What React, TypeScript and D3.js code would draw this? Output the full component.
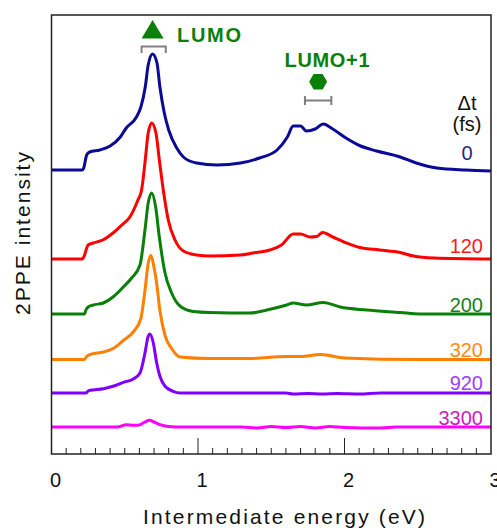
import React from 'react';
import * as d3 from 'd3';

// 2PPE spectra at several pump-probe delays, offset vertically
const delays = ['0', '120', '200', '320', '920', '3300'];
const lineColors = ['#0a0a96', '#ff0000', '#0a800a', '#ff8000', '#8000ff', '#ff00ff'];
const labelColors = ['#1a2a80', '#ff1a1a', '#1a801a', '#ff8a1a', '#9a40ff', '#cc20c0'];
const offsets = [284, 195, 140, 94.5, 61, 27];

const spec0 = [[0,0],[0.21,0],[0.22,2],[0.24,15],[0.26,18],[0.33,20],[0.40,24],[0.47,33],[0.51,42],[0.58,53],[0.61,63],[0.64,83],[0.66,105],[0.69,116],[0.72,107],[0.74,83],[0.77,57],[0.80,40],[0.855,22],[0.90,13],[0.99,7],[1.13,5],[1.29,7],[1.42,12],[1.54,20],[1.61,33],[1.65,44],[1.70,44],[1.74,39],[1.80,41],[1.855,46],[1.92,41],[2.01,32],[2.11,24],[2.22,19],[2.38,13],[2.49,7],[2.63,2],[2.83,0],[3.0,-1]];
const spec120 = [[0,0],[0.21,0],[0.22,2],[0.25,14],[0.285,16],[0.35,19],[0.42,26],[0.48,34],[0.535,42],[0.59,59],[0.615,69],[0.64,99],[0.66,126],[0.684,136],[0.713,126],[0.736,99],[0.763,69],[0.797,39],[0.843,19],[0.90,8],[0.99,4],[1.08,3],[1.29,4],[1.375,6],[1.49,9],[1.57,14],[1.65,25],[1.70,25],[1.765,22],[1.81,22.5],[1.85,26.5],[1.92,22],[2.015,16],[2.105,11.5],[2.24,9],[2.38,6.5],[2.47,3],[2.61,1],[3.0,0]];
const spec200 = [[0,0],[0.225,0],[0.235,4],[0.25,7],[0.285,9],[0.354,11],[0.42,17],[0.49,27],[0.547,36],[0.604,49],[0.638,84],[0.66,111],[0.684,121],[0.711,107],[0.736,77],[0.775,41],[0.82,21],[0.877,8],[0.968,2.5],[1.08,1.5],[1.355,1],[1.47,4],[1.605,9],[1.65,11],[1.74,9],[1.855,11.5],[1.97,7],[2.15,4],[2.38,1.5],[2.515,0],[3.0,0]];
const spec320 = [[0,0],[0.225,0],[0.24,3],[0.263,5],[0.354,7.5],[0.42,11],[0.49,19],[0.558,27.5],[0.61,41],[0.638,69],[0.66,96],[0.679,104],[0.70,92],[0.718,76],[0.74,49],[0.775,24],[0.82,11],[0.877,2.5],[1.08,1],[1.35,1],[1.6,3],[1.7,3],[1.84,5],[2.0,1.5],[2.49,0],[3.0,0]];
const spec920 = [[0,0],[0.235,0],[0.25,2],[0.263,2.7],[0.354,4.3],[0.42,6.7],[0.49,10.7],[0.558,14],[0.604,20],[0.638,40],[0.66,56.7],[0.672,59],[0.695,50],[0.718,30],[0.74,16.7],[0.775,6.7],[0.83,1.7],[0.877,0],[1.6,0],[1.65,-1],[1.75,-0.5],[1.85,-1],[1.95,-0.5],[2.1,-1],[2.25,0],[3.0,0]];
const spec3300 = [[0,0],[0.45,0],[0.51,2.3],[0.56,1.7],[0.6,2],[0.626,4],[0.668,6.7],[0.70,5],[0.74,2.3],[0.786,0.7],[0.85,0],[1.3,0],[1.4,-1],[1.5,0.5],[1.6,-0.5],[1.7,0.5],[1.8,-1],[1.9,0.5],[2.0,-0.5],[2.25,-1],[2.35,0],[3.0,0]];
const spectra = [spec0, spec120, spec200, spec320, spec920, spec3300];

// state markers: energy position and error-bar range (eV)
const lumo = { name: 'LUMO', e: 0.69, lo: 0.615, hi: 0.78 };
const lumo1 = { name: 'LUMO+1', e: 1.82, lo: 1.73, hi: 1.91 };

const xTicks = [0, 1, 2, 3];

export default function App() {
  const W = 497, H = 532;
  const left = 51.5, right = 491, top = 15, bottom = 454;

  const x = d3.scaleLinear().domain([0, 3]).range([left, right]);
  const y = d3.scaleLinear().domain([0, 440]).range([bottom, top - 1]);

  const font = "Arial, 'Liberation Sans', sans-serif";

  const minor = d3.range(1, 30).map((i) => i / 10);

  // label lift above each baseline (px)
  const lift = [10, 6, 2, 2.5, 3, 2];

  const hex = (cx: number, cy: number, r: number) =>
    d3.range(6).map((i) => {
      const a = (Math.PI / 3) * i;
      return [cx + r * Math.cos(a), cy + r * Math.sin(a)].join(',');
    }).join(' ');

  return (
    <svg width={W} height={H} style={{ position: 'absolute', left: 0, top: 0, background: '#fff' }}
      fontFamily={font}>
      {/* spectra, bottom first */}
      {spectra.map((s, i) => i).reverse().map((i) => {
        const line = d3.line<number[]>()
          .x((d) => x(d[0]))
          .y((d) => y(d[1] + offsets[i]))
          .curve(d3.curveMonotoneX);
        return (
          <path key={'s' + i} d={line(spectra[i]) || ''} fill="none" stroke={lineColors[i]}
            strokeWidth={3} strokeLinejoin="round" />
        );
      })}

      {/* delay labels */}
      {delays.map((t, i) => (
        <text key={'l' + i} x={i === 0 ? 467 : 483} y={y(offsets[i]) - lift[i]}
          textAnchor={i === 0 ? 'middle' : 'end'} fontSize={20} fill={labelColors[i]}>{t}</text>
      ))}
      <text x={467} y={110} textAnchor="middle" fontSize={20} fill="#111">Δt</text>
      <text x={467} y={131} textAnchor="middle" fontSize={20} fill="#111">(fs)</text>

      {/* frame */}
      <rect x={left} y={top} width={right - left} height={bottom - top} fill="none" stroke="#222" strokeWidth={1.5} />

      {/* x ticks */}
      {minor.map((t) => (
        <line key={'m' + t} x1={x(t)} x2={x(t)} y1={bottom} y2={bottom - (Math.abs(t - Math.round(t)) < 1e-6 ? 16 : 6)}
          stroke="#222" strokeWidth={1} />
      ))}
      {xTicks.map((t) => (
        <text key={'t' + t} x={x(t) + 4} y={487} textAnchor="middle" fontSize={20} fill="#111">{t}</text>
      ))}
      <text x={284} y={524} textAnchor="middle" fontSize={21} fill="#111" textLength={282} lengthAdjust="spacing">
        Intermediate energy (eV)
      </text>
      <text transform="translate(30,233.5) rotate(-90)" textAnchor="middle" fontSize={21} fill="#111"
        textLength={163} lengthAdjust="spacing">2PPE intensity</text>

      {/* LUMO marker */}
      <polygon points={[[x(lumo.e), 20], [x(lumo.e) - 11, 38.5], [x(lumo.e) + 11, 38.5]].map((p) => p.join(',')).join(' ')}
        fill="#0a800a" />
      <path d={`M${x(lumo.lo)},53 V46.5 H${x(lumo.hi)} V53`} fill="none" stroke="#808080" strokeWidth={2} />
      <text x={177} y={41.5} fontSize={20} fontWeight="bold" fill="#0a800a" textLength={64} lengthAdjust="spacing">{lumo.name}</text>

      {/* LUMO+1 marker */}
      <polygon points={hex(x(lumo1.e), 81.7, 9)} fill="#0a800a" />
      <path d={`M${x(lumo1.lo)},96 V105 M${x(lumo1.lo)},100.5 H${x(lumo1.hi)} M${x(lumo1.hi)},96 V105`}
        fill="none" stroke="#808080" strokeWidth={2} />
      <text x={284.5} y={66.5} fontSize={20} fontWeight="bold" fill="#0a800a" textLength={85} lengthAdjust="spacing">{lumo1.name}</text>
    </svg>
  );
}
